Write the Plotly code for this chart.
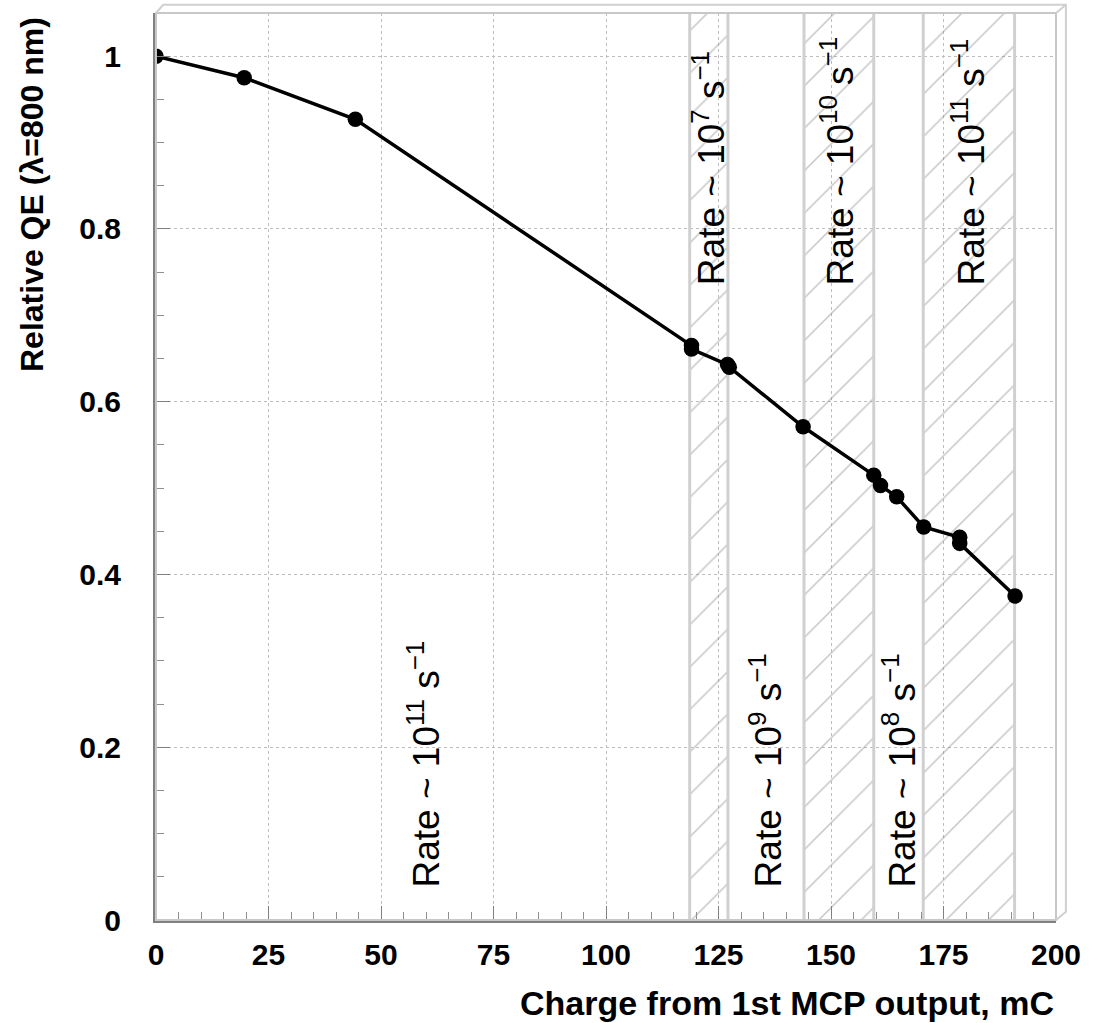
import plotly.graph_objects as go

# ---- data ----
charge = [0, 19.6, 44.3, 119.0, 119.0, 127.0, 127.4, 143.8, 159.5, 161.0, 164.6, 170.6, 178.6, 178.6, 190.9]
rel_qe = [1.0, 0.975, 0.927, 0.665, 0.661, 0.643, 0.640, 0.571, 0.515, 0.503, 0.490, 0.455, 0.443, 0.436, 0.375]

band_start = [118.6, 144.0, 170.5]
band_end = [127.1, 159.5, 190.8]

rate_text = ["Rate ~ 10<sup>11</sup> s<sup>−1</sup>",
             "Rate ~ 10<sup>7</sup> s<sup>−1</sup>",
             "Rate ~ 10<sup>9</sup> s<sup>−1</sup>",
             "Rate ~ 10<sup>10</sup> s<sup>−1</sup>",
             "Rate ~ 10<sup>8</sup> s<sup>−1</sup>",
             "Rate ~ 10<sup>11</sup> s<sup>−1</sup>"]
rate_x = [59.6, 123.0, 135.7, 151.4, 165.3, 180.5]
rate_y = [0.035, 0.732, 0.035, 0.732, 0.035, 0.732]

x_ticks = [0, 25, 50, 75, 100, 125, 150, 175, 200]
y_ticks = [0, 0.2, 0.4, 0.6, 0.8, 1.0]
y_ticklabels = ["0", "0.2", "0.4", "0.6", "0.8", "1"]

X_RANGE = [0, 200]
Y_RANGE = [0, 1.05]

FONT = "Liberation Sans, Arial, Helvetica, sans-serif"

fig = go.Figure()

# hatched bands
for x0, x1 in zip(band_start, band_end):
    fig.add_trace(go.Scatter(
        x=[x0, x1, x1, x0, x0],
        y=[Y_RANGE[0], Y_RANGE[0], Y_RANGE[1], Y_RANGE[1], Y_RANGE[0]],
        mode="lines",
        fill="toself",
        fillcolor="rgba(0,0,0,0)",
        fillpattern=dict(shape="/", fgcolor="#8c8c8c", bgcolor="rgba(0,0,0,0)",
                         size=30, solidity=0.05),
        line=dict(color="rgba(0,0,0,0)", width=0),
        hoverinfo="skip", showlegend=False,
    ))
    for xv in (x0, x1):
        fig.add_trace(go.Scatter(
            x=[xv, xv], y=Y_RANGE, mode="lines",
            line=dict(color="#d0d0d0", width=3),
            hoverinfo="skip", showlegend=False,
        ))

# data
fig.add_trace(go.Scatter(
    x=charge, y=rel_qe, mode="lines+markers",
    line=dict(color="black", width=3.5),
    marker=dict(color="black", size=15.5, symbol="circle"),
    showlegend=False,
))

annotations = []
for t, xv, yv in zip(rate_text, rate_x, rate_y):
    annotations.append(dict(
        x=xv, y=yv, xref="x", yref="y", text=t, showarrow=False,
        textangle=-90, xanchor="center", yanchor="bottom",
        font=dict(family=FONT, size=37, color="black"),
    ))

annotations.append(dict(
    x=1.0, y=-0.091, xref="paper", yref="paper",
    text="Charge from 1st MCP output, mC", showarrow=False,
    xanchor="right", yanchor="middle",
    font=dict(family=FONT, size=34, color="black", weight="bold"),
))
annotations.append(dict(
    x=-0.137, y=0.998, xref="paper", yref="paper",
    text="Relative QE (λ=800 nm)", showarrow=False, textangle=-90,
    xanchor="center", yanchor="top",
    font=dict(family=FONT, size=32, color="black", weight="bold"),
))

# ROOT-like 3D frame border
dx, dy = 0.011, 0.009
shapes = [
    dict(type="rect", xref="paper", yref="paper", x0=0, y0=0, x1=1, y1=1,
         line=dict(color="#c8c8c8", width=2), layer="above"),
    dict(type="path", xref="paper", yref="paper",
         path=f"M 0 1 L {0.008} {1+dy} L {1+dx} {1+dy} L {1+dx} {dy} L 1 0 M {1+dx} {1+dy} L 1 1",
         line=dict(color="#d0d0d0", width=2)),
]

fig.update_layout(
    width=1093, height=1023,
    margin=dict(l=156, r=31, t=13, b=103),
    paper_bgcolor="white", plot_bgcolor="white",
    font=dict(family=FONT, color="black"),
    annotations=annotations,
    shapes=shapes,
    showlegend=False,
)

fig.update_xaxes(
    range=X_RANGE, tickvals=x_ticks,
    showgrid=True, gridcolor="#bdbdbd", griddash="dot", gridwidth=1,
    zeroline=False, showline=True, linecolor="#808080", linewidth=3,
    ticks="inside", ticklen=14, tickcolor="#808080", tickwidth=1,
    minor=dict(dtick=5, ticks="inside", ticklen=8, tickcolor="#909090", showgrid=False),
    tickfont=dict(family=FONT, size=30, color="black", weight="bold"),
    ticklabelstandoff=6,
)
fig.update_yaxes(
    range=Y_RANGE, tickvals=y_ticks, ticktext=y_ticklabels,
    showgrid=True, gridcolor="#bdbdbd", griddash="dot", gridwidth=1,
    zeroline=False, showline=True, linecolor="#808080", linewidth=3,
    ticks="inside", ticklen=14, tickcolor="#808080", tickwidth=1,
    minor=dict(dtick=0.05, ticks="inside", ticklen=8, tickcolor="#909090", showgrid=False),
    tickfont=dict(family=FONT, size=30, color="black", weight="bold"),
    ticklabelstandoff=26,
)

fig.write_html("out.html")
